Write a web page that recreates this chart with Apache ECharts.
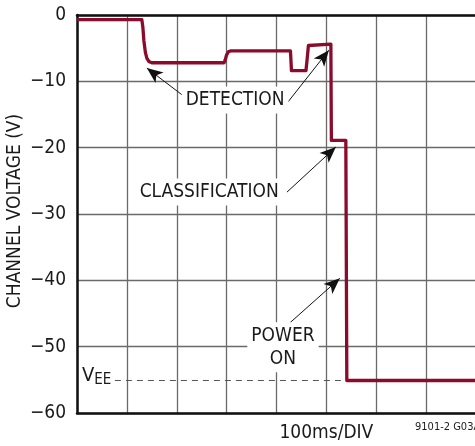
<!DOCTYPE html>
<html><head><meta charset="utf-8">
<script src="https://cdn.jsdelivr.net/npm/echarts@6/dist/echarts.min.js"></script>
<style>html,body{margin:0;padding:0;background:#fff}#c{width:475px;height:446px}</style>
</head><body><div id="c"></div>
<script>
// time in divisions (100 ms/DIV)
const traceX = [0, 1.30, 1.32, 1.34, 1.37, 1.40, 1.44, 1.50, 1.58, 2.95, 2.97, 3.00, 3.04, 3.09, 4.28, 4.30, 4.59, 4.61, 4.64, 4.68, 5.09, 5.10, 5.39, 5.41, 8];
const traceV = [-0.7, -0.7, -1.8, -3.8, -5.6, -6.5, -7.0, -7.2, -7.2, -7.2, -6.8, -6.0, -5.5, -5.4, -5.4, -8.4, -8.4, -7.0, -4.6, -4.4, -4.4, -18.9, -18.9, -55.1, -55.1];
const yTicks = [0, -10, -20, -30, -40, -50, -60];
const veeLevel = -55.1;
const veeStart = 0.76;
const veeEnd = 5.40;
const yTitle = 'CHANNEL VOLTAGE (V)';
const xTitle = '100ms/DIV';
const labelDetection = 'DETECTION';
const labelClass = 'CLASSIFICATION';
const labelPower = 'POWER\nON';
const arrows = [
  [[2.17, -12.4], [1.40, -8.0]],
  [[4.21, -13.3], [5.05, -5.3]],
  [[4.21, -26.7], [5.19, -19.9]],
  [[4.27, -46.4], [5.27, -39.7]]
];
const labelPos = {det: [3.17, -12.8], cls: [2.65, -26.7], pwr: [4.13, -50.1], vee: [0.10, -54.4]};

const FONT = "'DejaVu Sans Condensed','Liberation Sans Narrow','Liberation Sans',sans-serif";
const chart = echarts.init(document.getElementById('c'), null, {renderer: 'canvas'});
const traceData = traceX.map((x, i) => [x, traceV[i]]);

chart.setOption({
  animation: false,
  grid: {left: 77, top: 15, right: -1, bottom: 33, containLabel: false, outerBoundsMode: 'none'},
  xAxis: [{
    type: 'value', min: 0, max: 8, interval: 1,
    axisLine: {show: true, onZero: false, lineStyle: {color: '#111', width: 2.5}},
    axisTick: {show: false}, axisLabel: {show: false},
    splitLine: {show: true, lineStyle: {color: '#6a6a6a', width: 1.3}}
  }, {
    type: 'value', min: 0, max: 8, position: 'top',
    axisLine: {show: true, onZero: false, lineStyle: {color: '#111', width: 2.5}},
    axisTick: {show: false}, axisLabel: {show: false}, splitLine: {show: false}
  }],
  yAxis: {
    type: 'value', min: -60, max: 0, interval: 10,
    axisLine: {show: true, onZero: false, lineStyle: {color: '#111', width: 2.5}},
    axisTick: {show: false},
    axisLabel: {fontFamily: FONT, fontSize: 19, color: '#1a1a1a', margin: 11,
      formatter: v => v === 0 ? '0' : '\u2212' + Math.abs(v)},
    splitLine: {show: true, lineStyle: {color: '#6a6a6a', width: 1.3}}
  },
  series: [{
    type: 'line', data: [[veeStart, veeLevel], [veeEnd, veeLevel]], symbol: 'none', silent: true,
    lineStyle: {color: '#555', width: 1, type: [6, 5]}, z: 2
  }, {
    type: 'line', data: traceData, symbol: 'none', smooth: false,
    lineStyle: {color: '#8a0b2c', width: 3.3, join: 'round'}, z: 5
  }, {
    type: 'line', data: [], symbol: 'none',
    markLine: {
      silent: true, symbol: ['none', 'arrow'], symbolSize: [10, 16],
      lineStyle: {color: '#111', width: 1, type: 'solid'}, label: {show: false},
      data: arrows.map(a => [{coord: a[0]}, {coord: a[1]}])
    }, z: 6
  }]
});

function px(p) { return chart.convertToPixel({gridIndex: 0}, p); }
const d = px(labelPos.det), c = px(labelPos.cls), p = px(labelPos.pwr), v = px(labelPos.vee);
const mid = px([0, -30]);
const txt = (pt, s, extra) => Object.assign({
  type: 'text', x: pt[0], y: pt[1], z: 10,
  style: Object.assign({text: s, fontFamily: FONT, fontSize: 19, fill: '#1a1a1a',
    align: 'center', verticalAlign: 'middle', backgroundColor: '#fff', padding: [2, 4], lineHeight: 23}, extra || {})
});
chart.setOption({
  graphic: [
    txt(d, labelDetection),
    txt(c, labelClass),
    txt(p, labelPower),
    {type: 'text', x: 15, y: mid[1] - 3, rotation: Math.PI / 2, style: {text: yTitle, fontFamily: FONT, fontSize: 19, fill: '#1a1a1a', align: 'center', verticalAlign: 'middle'}},
    {type: 'text', x: v[0], y: v[1], z: 10, style: {rich: {a: {fontFamily: FONT, fontSize: 20, fill: '#1a1a1a'}, b: {fontFamily: FONT, fontSize: 15, fill: '#1a1a1a', padding: [8, 0, 0, 0]}}, text: '{a|V}{b|EE}', align: 'left', verticalAlign: 'middle', backgroundColor: '#fff'}},
    {type: 'text', x: px([5, 0])[0], y: 433, style: {text: xTitle, fontFamily: FONT, fontSize: 19, fill: '#1a1a1a', align: 'center', verticalAlign: 'middle'}},
    {type: 'text', x: 415, y: 427, style: {text: '9101-2 G03A', fontFamily: FONT, fontSize: 11, fill: '#1a1a1a', align: 'left', verticalAlign: 'middle'}}
  ]
});
</script></body></html>
